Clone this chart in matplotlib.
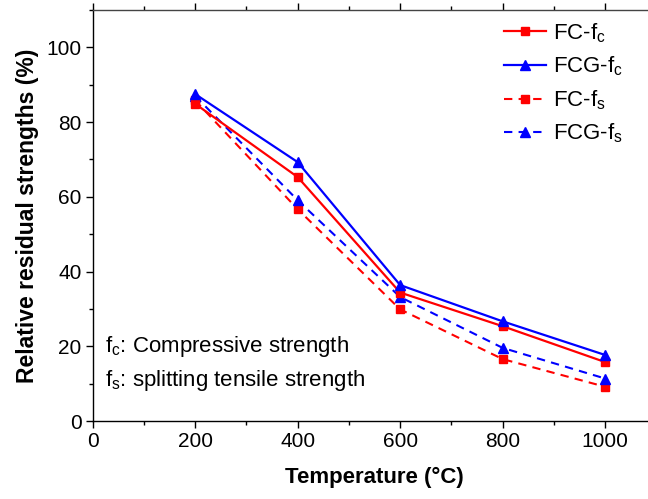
import numpy as np
import matplotlib
matplotlib.use("Agg")
import matplotlib.pyplot as plt
from matplotlib.ticker import MultipleLocator

plt.rcParams['font.family'] = ['Liberation Sans', 'DejaVu Sans']
plt.rcParams['mathtext.fontset'] = 'custom'
plt.rcParams['mathtext.rm'] = 'Liberation Sans'
plt.rcParams['mathtext.it'] = 'Liberation Sans'

temps = [200, 400, 600, 800, 1000]
fc_fc = [84.9, 65.3, 34.4, 25.4, 15.8]
fcg_fc = [87.5, 69.3, 36.4, 26.7, 17.7]
fc_fs = [85.8, 56.7, 29.9, 16.6, 9.2]
fcg_fs = [87.0, 59.1, 33.2, 19.6, 11.4]

fig = plt.figure(figsize=(6.48, 4.99), dpi=100)
ax = fig.add_axes([0.143, 0.156, 0.870, 0.824])

ax.plot(temps, fc_fs, color='red', ls='--', lw=1.5, marker='s', ms=6, dashes=(4, 3), label='FC-f$_\\mathrm{s}$')
ax.plot(temps, fcg_fs, color='blue', ls='--', lw=1.5, marker='^', ms=7, dashes=(4, 3), label='FCG-f$_\\mathrm{s}$')
ax.plot(temps, fc_fc, color='red', lw=1.6, marker='s', ms=6, label='FC-f$_\\mathrm{c}$')
ax.plot(temps, fcg_fc, color='blue', lw=1.6, marker='^', ms=7, label='FCG-f$_\\mathrm{c}$')

ax.set_xlim(0, 1100)
ax.set_ylim(0, 110)
ax.xaxis.set_major_locator(MultipleLocator(200))
ax.xaxis.set_minor_locator(MultipleLocator(100))
ax.yaxis.set_major_locator(MultipleLocator(20))
ax.yaxis.set_minor_locator(MultipleLocator(10))
ax.tick_params(which='major', direction='out', length=5, width=1, labelsize=15, pad=3)
ax.tick_params(which='minor', direction='out', length=3, width=1)
ax.tick_params(axis='x', which='both', top=True, labeltop=False)
for s in ax.spines.values():
    s.set_linewidth(1)
ax.spines['top'].set_color('#444444')

ax.set_xlabel('Temperature (°C)', fontsize=16, fontweight='bold', labelpad=11)
ax.set_ylabel('Relative residual strengths (%)', fontsize=16.5, fontweight='bold', labelpad=5)

h, l = ax.get_legend_handles_labels()
order = [2, 3, 0, 1]
ax.legend([h[i] for i in order], [l[i] for i in order], loc='upper right',
          bbox_to_anchor=(0.96, 1.0), borderaxespad=0.1, frameon=False, fontsize=16,
          handlelength=1.9, labelspacing=0.45, handletextpad=0.3)

ax.text(24, 20, 'f$_\\mathrm{c}$: Compressive strength', fontsize=16, va='center')
ax.text(24, 11, 'f$_\\mathrm{s}$: splitting tensile strength', fontsize=16, va='center')

fig.savefig('out.png', dpi=100)
